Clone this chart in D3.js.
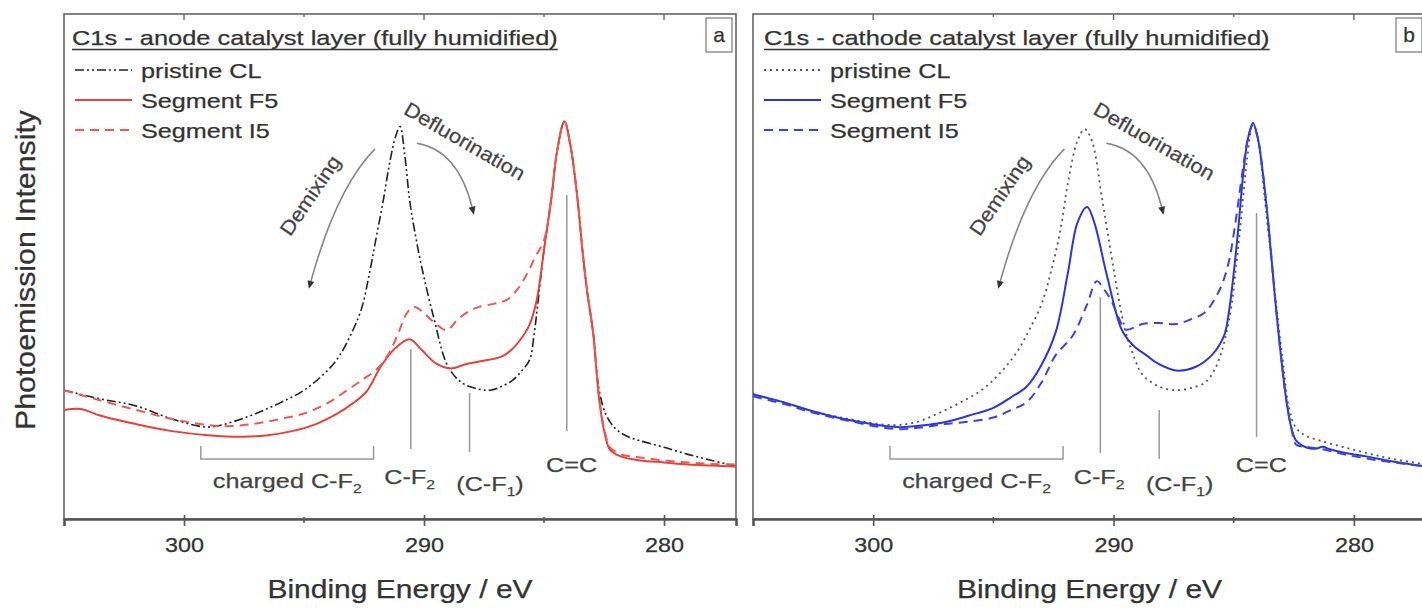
<!DOCTYPE html>
<html>
<head>
<meta charset="utf-8">
<script src="https://cdn.jsdelivr.net/npm/d3@7/dist/d3.min.js"></script>
<style>
body { margin: 0; background: #fff; }
svg text { font-family: "Liberation Sans", Arial, sans-serif; stroke: currentColor; stroke-width: 0.25; }
</style>
</head>
<body>
<svg width="1422" height="611"></svg>
<script>
// binding energy ticks
var majorTicks = [300, 290, 280];
var minorTicks = [295, 285];
var legendNames = ["pristine CL", "Segment F5", "Segment I5"];

// [binding energy (eV), intensity (a.u., 0..100 of the frame)]
var anodePristine = [[305.0, 25.5], [303.5, 23.8], [302.0, 22.4], [300.5, 19.8], [299.0, 18.2], [298.0, 19.2],
    [297.0, 20.9], [296.0, 23.0], [295.0, 25.5], [294.0, 29.5], [293.5, 32.5], [293.0, 37.0], [292.6, 41.7],
    [292.3, 48.0], [292.0, 55.5], [291.7, 63.0], [291.45, 70.0], [291.2, 75.5], [291.0, 77.7], [290.8, 72.0],
    [290.6, 63.2], [290.35, 56.0], [290.1, 50.0], [289.6, 40.0], [289.0, 30.2], [288.4, 26.9], [287.8, 25.8],
    [287.25, 25.5], [286.8, 26.2], [286.3, 27.5], [285.9, 29.5], [285.6, 31.5], [285.4, 37.0], [285.25, 43.0],
    [285.0, 53.3], [284.7, 63.2], [284.45, 73.0], [284.15, 78.7], [283.9, 74.0], [283.6, 63.2], [283.4, 53.3],
    [283.2, 45.0], [282.95, 36.8], [282.7, 25.5], [282.4, 20.5], [282.0, 17.8], [281.5, 16.3], [281.0, 15.5],
    [280.0, 14.2], [279.0, 12.8], [278.0, 11.6], [277.0, 10.4]];
var anodeF5 = [[305.0, 21.6], [304.3, 21.8], [303.5, 20.5], [302.0, 18.8], [300.5, 17.4], [299.0, 16.6],
    [297.5, 16.3], [296.5, 16.6], [295.5, 17.4], [294.5, 18.8], [293.6, 20.9], [293.0, 22.8], [292.4, 25.2],
    [291.8, 30.2], [291.2, 33.8], [290.6, 35.6], [290.1, 33.5], [289.5, 30.8], [288.9, 29.8], [288.3, 30.6],
    [287.7, 31.2], [286.8, 32.1], [286.4, 33.3], [286.0, 35.4], [285.6, 38.5], [285.3, 43.4], [285.0, 53.3],
    [284.7, 63.2], [284.45, 73.0], [284.15, 78.7], [283.9, 74.0], [283.6, 63.2], [283.4, 53.3], [283.2, 45.0],
    [282.95, 36.8], [282.7, 23.6], [282.45, 16.5], [282.25, 13.7], [281.8, 12.4], [281.0, 11.6], [280.0, 11.2],
    [279.0, 10.8], [278.0, 10.6], [277.0, 10.4]];
var anodeI5 = [[305.0, 25.5], [303.5, 23.5], [302.0, 21.6], [300.5, 19.8], [299.0, 18.6], [298.0, 18.4],
    [297.0, 18.9], [296.0, 19.8], [295.0, 20.9], [294.0, 23.0], [293.2, 25.5], [292.5, 27.8], [292.0, 29.5],
    [291.5, 32.5], [291.07, 36.8], [290.75, 40.5], [290.45, 42.0], [290.1, 41.2], [289.6, 39.0], [289.05, 37.4],
    [288.6, 39.5], [288.1, 41.2], [287.7, 42.0], [287.1, 42.6], [286.55, 43.4], [286.1, 45.5], [285.7, 48.6],
    [285.35, 52.0], [285.0, 55.2], [284.7, 63.5], [284.45, 73.0], [284.15, 78.7], [283.9, 74.0], [283.6, 63.2],
    [283.4, 53.3], [283.2, 45.0], [282.95, 36.8], [282.7, 24.0], [282.45, 17.0], [282.25, 14.2], [281.8, 12.8],
    [281.0, 12.2], [280.0, 11.6], [279.0, 11.2], [278.0, 10.9], [277.0, 10.8]];

var cathodePristine = [[305.0, 24.7], [303.5, 22.8], [302.7, 21.6], [301.0, 19.8], [299.2, 18.6], [298.2, 19.2],
    [297.3, 20.9], [296.4, 23.0], [295.5, 25.5], [294.7, 29.0], [294.0, 33.2], [293.5, 37.5], [293.0, 42.5],
    [292.6, 49.0], [292.2, 57.5], [291.9, 66.5], [291.5, 74.9], [291.2, 77.2], [290.9, 74.9], [290.5, 64.1],
    [290.1, 52.5], [289.8, 44.0], [289.5, 37.1], [289.1, 31.5], [288.8, 28.6], [288.1, 26.2], [287.4, 25.5],
    [286.8, 25.9], [286.2, 27.0], [285.8, 29.5], [285.5, 33.2], [285.3, 37.0], [285.1, 42.0], [284.9, 50.0],
    [284.7, 59.0], [284.45, 71.0], [284.2, 78.4], [283.95, 74.0], [283.7, 63.0], [283.45, 52.0], [283.2, 41.0],
    [282.95, 31.0], [282.7, 22.0], [282.4, 18.0], [282.0, 16.5], [281.4, 15.5], [280.5, 14.3], [279.5, 13.1],
    [278.5, 12.0], [277.0, 10.8]];
var cathodeF5 = [[305.0, 24.7], [303.5, 22.8], [302.7, 21.6], [301.0, 19.6], [299.0, 18.2], [298.0, 18.5],
    [296.9, 19.3], [296.0, 20.5], [295.0, 22.0], [294.3, 24.0], [293.6, 26.3], [293.0, 30.5], [292.4, 37.1],
    [291.9, 48.7], [291.5, 58.7], [291.1, 61.8], [290.8, 58.7], [290.3, 48.7], [289.7, 37.9], [289.4, 35.5],
    [289.1, 34.0], [288.6, 32.3], [288.2, 30.9], [287.4, 29.4], [286.6, 30.1], [285.9, 32.5], [285.4, 36.3],
    [285.2, 41.0], [285.0, 48.7], [284.8, 58.0], [284.6, 68.5], [284.4, 75.5], [284.2, 78.4], [284.0, 75.5],
    [283.8, 69.0], [283.55, 58.0], [283.3, 44.8], [283.05, 33.0], [282.8, 23.2], [282.6, 18.0], [282.4, 15.5],
    [282.0, 14.2], [281.6, 13.9], [281.3, 14.3], [281.0, 13.8], [280.3, 13.0], [279.5, 12.4], [278.5, 11.5],
    [277.0, 10.4]];
var cathodeI5 = [[305.0, 24.3], [303.5, 22.5], [302.7, 21.3], [301.0, 19.4], [299.0, 17.8], [297.9, 18.2],
    [297.0, 18.8], [296.0, 19.3], [295.0, 20.1], [294.3, 21.5], [293.6, 23.2], [293.0, 27.0], [292.4, 32.5],
    [291.7, 36.3], [291.1, 42.5], [290.7, 47.1], [290.4, 45.5], [290.1, 43.3], [289.8, 40.0], [289.5, 37.5],
    [289.1, 38.0], [288.8, 38.6], [288.1, 38.8], [287.4, 38.6], [286.8, 39.5], [286.2, 40.9], [285.8, 43.5],
    [285.5, 46.3], [285.2, 51.0], [285.0, 56.4], [284.8, 63.0], [284.6, 70.0], [284.4, 75.5], [284.2, 78.0],
    [284.0, 75.5], [283.8, 69.0], [283.55, 58.0], [283.3, 44.8], [283.05, 33.0], [282.8, 23.2], [282.6, 18.0],
    [282.4, 14.7], [282.0, 14.3], [281.4, 13.9], [280.5, 12.9], [279.5, 12.0], [278.5, 11.3], [277.0, 10.4]];

var svg = d3.select("svg");
var plotTop = 14, plotBottom = 519;

function stretchText(sel, k) {
    sel.each(function() {
        var w = this.getComputedTextLength();
        d3.select(this).attr("textLength", w * k).attr("lengthAdjust", "spacingAndGlyphs");
    });
    return sel;
}

// text with optional subscript, e.g. C-F + 2
function subLabel(g, x, y, main, sub, tail, anchor) {
    var t = g.append("text")
        .attr("x", x).attr("y", y)
        .attr("text-anchor", anchor || "middle")
        .attr("font-size", 21)
        .attr("fill", "#444").attr("color", "#444");
    t.append("tspan").text(main);
    t.append("tspan").attr("font-size", 13).attr("dy", 5).text(sub);
    if (tail) t.append("tspan").attr("dy", -5).text(tail);
    stretchText(t, 1.2);
    return t;
}

function arrowArc(g, p0, p1, p2) {
    g.append("path")
        .attr("d", "M" + p0 + " Q" + p1 + " " + p2)
        .attr("fill", "none").attr("stroke", "#888").attr("stroke-width", 1.6);
    var dx = p2[0] - p1[0], dy = p2[1] - p1[1];
    var len = Math.sqrt(dx * dx + dy * dy);
    var ux = dx / len, uy = dy / len;
    var tip = [p2[0] + ux * 8, p2[1] + uy * 8];
    var b1 = [p2[0] - uy * 3.5, p2[1] + ux * 3.5];
    var b2 = [p2[0] + uy * 3.5, p2[1] - ux * 3.5];
    g.append("path")
        .attr("d", "M" + tip + " L" + b1 + " L" + b2 + " Z")
        .attr("fill", "#333");
}

function drawPanel(cfg) {
    var x = d3.scaleLinear([305, 277], [cfg.left, cfg.right]);
    var y = d3.scaleLinear([0, 100], [plotBottom, plotTop]);
    var g = svg.append("g");

    g.append("clipPath").attr("id", "clip" + cfg.tag)
        .append("rect")
        .attr("x", cfg.left).attr("y", plotTop)
        .attr("width", cfg.right - cfg.left).attr("height", plotBottom - plotTop);

    // frame
    g.append("rect")
        .attr("x", cfg.left).attr("y", plotTop)
        .attr("width", cfg.right - cfg.left).attr("height", plotBottom - plotTop)
        .attr("fill", "none").attr("stroke", "#666").attr("stroke-width", 1.6);

    // bottom axis
    var axis = d3.axisBottom(x).tickValues(majorTicks).tickSize(7).tickFormat(d3.format("d"));
    var ax = g.append("g")
        .attr("transform", "translate(0," + plotBottom + ")")
        .call(axis);
    ax.select(".domain").attr("stroke", "#555").attr("stroke-width", 2.6);
    ax.selectAll(".tick line").attr("stroke", "#555").attr("stroke-width", 1.6).attr("y1", -4);
    ax.selectAll(".tick text")
        .attr("font-size", 19.5).attr("fill", "#333").attr("color", "#333").attr("dy", 0).attr("y", 33)
        .attr("font-family", "Liberation Sans, Arial, sans-serif");
    stretchText(ax.selectAll(".tick text"), 1.2);

    g.selectAll(".minor")
        .data(minorTicks)
        .enter()
            .append("line")
            .attr("x1", function(d) { return x(d); })
            .attr("x2", function(d) { return x(d); })
            .attr("y1", plotBottom - 2)
            .attr("y2", plotBottom + 4)
            .attr("stroke", "#555").attr("stroke-width", 1.6);

    // top ticks, pointing inward
    g.selectAll(".topTick")
        .data(majorTicks.concat(minorTicks))
        .enter()
            .append("line")
            .attr("x1", function(d) { return x(d); })
            .attr("x2", function(d) { return x(d); })
            .attr("y1", plotTop)
            .attr("y2", function(d) { return plotTop + (majorTicks.indexOf(d) >= 0 ? 6 : 3); })
            .attr("stroke", "#666").attr("stroke-width", 1.4);

    // x title
    var xt = g.append("text")
        .attr("x", (cfg.left + cfg.right) / 2).attr("y", 598)
        .attr("text-anchor", "middle")
        .attr("font-size", 25).attr("fill", "#333").attr("color", "#333")
        .text("Binding Energy / eV");
    stretchText(xt, 1.2);

    // peak markers
    var marks = g.append("g").attr("stroke", "#999").attr("stroke-width", 1.5);
    cfg.markers.forEach(function(m) {
        marks.append("line")
            .attr("x1", x(m[0])).attr("x2", x(m[0]))
            .attr("y1", m[1]).attr("y2", m[2]);
    });
    // charged C-F2 bracket
    var bx0 = x(299.3), bx1 = x(292.1);
    marks.append("path")
        .attr("fill", "none")
        .attr("d", "M" + bx0 + "," + 446 + " L" + bx0 + "," + 459 + " L" + bx1 + "," + 459 + " L" + bx1 + "," + 446);

    subLabel(g, x(295.7), 488, "charged C-F", "2", "");
    subLabel(g, x(290.6), 484, "C-F", "2", "");
    subLabel(g, x(287.25), 491, "(C-F", "1", ")");
    var cc = g.append("text")
        .attr("x", x(283.85)).attr("y", 472)
        .attr("text-anchor", "middle")
        .attr("font-size", 21).attr("fill", "#444").attr("color", "#444")
        .text("C=C");
    stretchText(cc, 1.2);

    // curves
    var line = d3.line()
        .x(function(d) { return x(d[0]); })
        .y(function(d) { return y(d[1]); })
        .curve(d3.curveCatmullRom.alpha(0.5));

    var curves = g.append("g").attr("clip-path", "url(#clip" + cfg.tag + ")");
    cfg.series.forEach(function(s) {
        curves.append("path")
            .attr("d", line(s.data))
            .attr("fill", "none")
            .attr("stroke", s.color)
            .attr("stroke-width", s.width)
            .attr("stroke-dasharray", s.dash)
            .attr("stroke-linejoin", "round");
    });

    // demixing / defluorination arrows
    arrowArc(g, [x(292.04), y(73.3)], [x(293.63), y(65.7)], [x(294.71), y(47.1)]);
    arrowArc(g, [x(290.3), y(74.4)], [x(288.6), y(73.1)], [x(288.0), y(61.8)]);

    var dm = g.append("text")
        .attr("transform", "translate(" + x(294.5) + "," + (y(64.5) + 6) + ") rotate(-56)")
        .attr("text-anchor", "middle")
        .attr("font-size", 20).attr("fill", "#444").attr("color", "#444")
        .text("Demixing");
    stretchText(dm, 1.1);
    var df = g.append("text")
        .attr("transform", "translate(" + x(288.45) + "," + (y(74.8) + 6) + ") rotate(30)")
        .attr("text-anchor", "middle")
        .attr("font-size", 20).attr("fill", "#444").attr("color", "#444")
        .text("Defluorination");
    stretchText(df, 1.1);

    // title
    var tt = g.append("text")
        .attr("x", cfg.left + cfg.titleDx).attr("y", 45)
        .attr("font-size", 21).attr("fill", "#333").attr("color", "#333")
        .text(cfg.title);
    stretchText(tt, 1.21);
    var tw = +tt.attr("textLength");
    g.append("line")
        .attr("x1", cfg.left + cfg.titleDx).attr("x2", cfg.left + cfg.titleDx + tw)
        .attr("y1", 49.5).attr("y2", 49.5)
        .attr("stroke", "#333").attr("stroke-width", 1.4);

    // legend
    cfg.series.forEach(function(s, i) {
        var ly = 70 + i * 30;
        g.append("line")
            .attr("x1", cfg.left + 11).attr("x2", cfg.left + 68)
            .attr("y1", ly).attr("y2", ly)
            .attr("stroke", s.color).attr("stroke-width", s.width)
            .attr("stroke-dasharray", s.dash);
        var lt = g.append("text")
            .attr("x", cfg.left + 77).attr("y", ly + 8)
            .attr("font-size", 21).attr("fill", "#333").attr("color", "#333")
            .text(legendNames[i]);
        stretchText(lt, 1.2);
    });

    // panel letter
    var bxRight = cfg.right - 4;
    g.append("rect")
        .attr("x", bxRight - 26).attr("y", 18)
        .attr("width", 26).attr("height", 34)
        .attr("fill", "#fff").attr("stroke", "#777").attr("stroke-width", 1.2);
    g.append("text")
        .attr("x", bxRight - 13).attr("y", 42)
        .attr("text-anchor", "middle")
        .attr("font-size", 21).attr("fill", "#333").attr("color", "#333")
        .text(cfg.tag);
}

drawPanel({
    tag: "a", left: 64, right: 736, titleDx: 8,
    title: "C1s - anode catalyst layer (fully humidified)",
    series: [
        { data: anodePristine, color: "#222", width: 1.6, dash: "9,3,2,3,2,3" },
        { data: anodeF5, color: "#e8403a", width: 2, dash: null },
        { data: anodeI5, color: "#ec5a55", width: 2, dash: "9,6" }
    ],
    markers: [[290.55, 349, 449], [288.1, 393, 452], [284.05, 195, 431]]
});

drawPanel({
    tag: "b", left: 753, right: 1426, titleDx: 11,
    title: "C1s - cathode catalyst layer (fully humidified)",
    series: [
        { data: cathodePristine, color: "#555", width: 1.8, dash: "2,4" },
        { data: cathodeF5, color: "#2b36d9", width: 2, dash: null },
        { data: cathodeI5, color: "#3a44dc", width: 2, dash: "9,6" }
    ],
    markers: [[290.55, 297, 453], [288.1, 410, 459], [284.05, 213, 437]]
});

// y title
svg.append("text")
    .attr("transform", "translate(35,270) rotate(-90)")
    .attr("text-anchor", "middle")
    .attr("font-size", 28).attr("fill", "#333").attr("color", "#333")
    .attr("textLength", 320).attr("lengthAdjust", "spacingAndGlyphs")
    .text("Photoemission Intensity");
</script>
</body>
</html>
